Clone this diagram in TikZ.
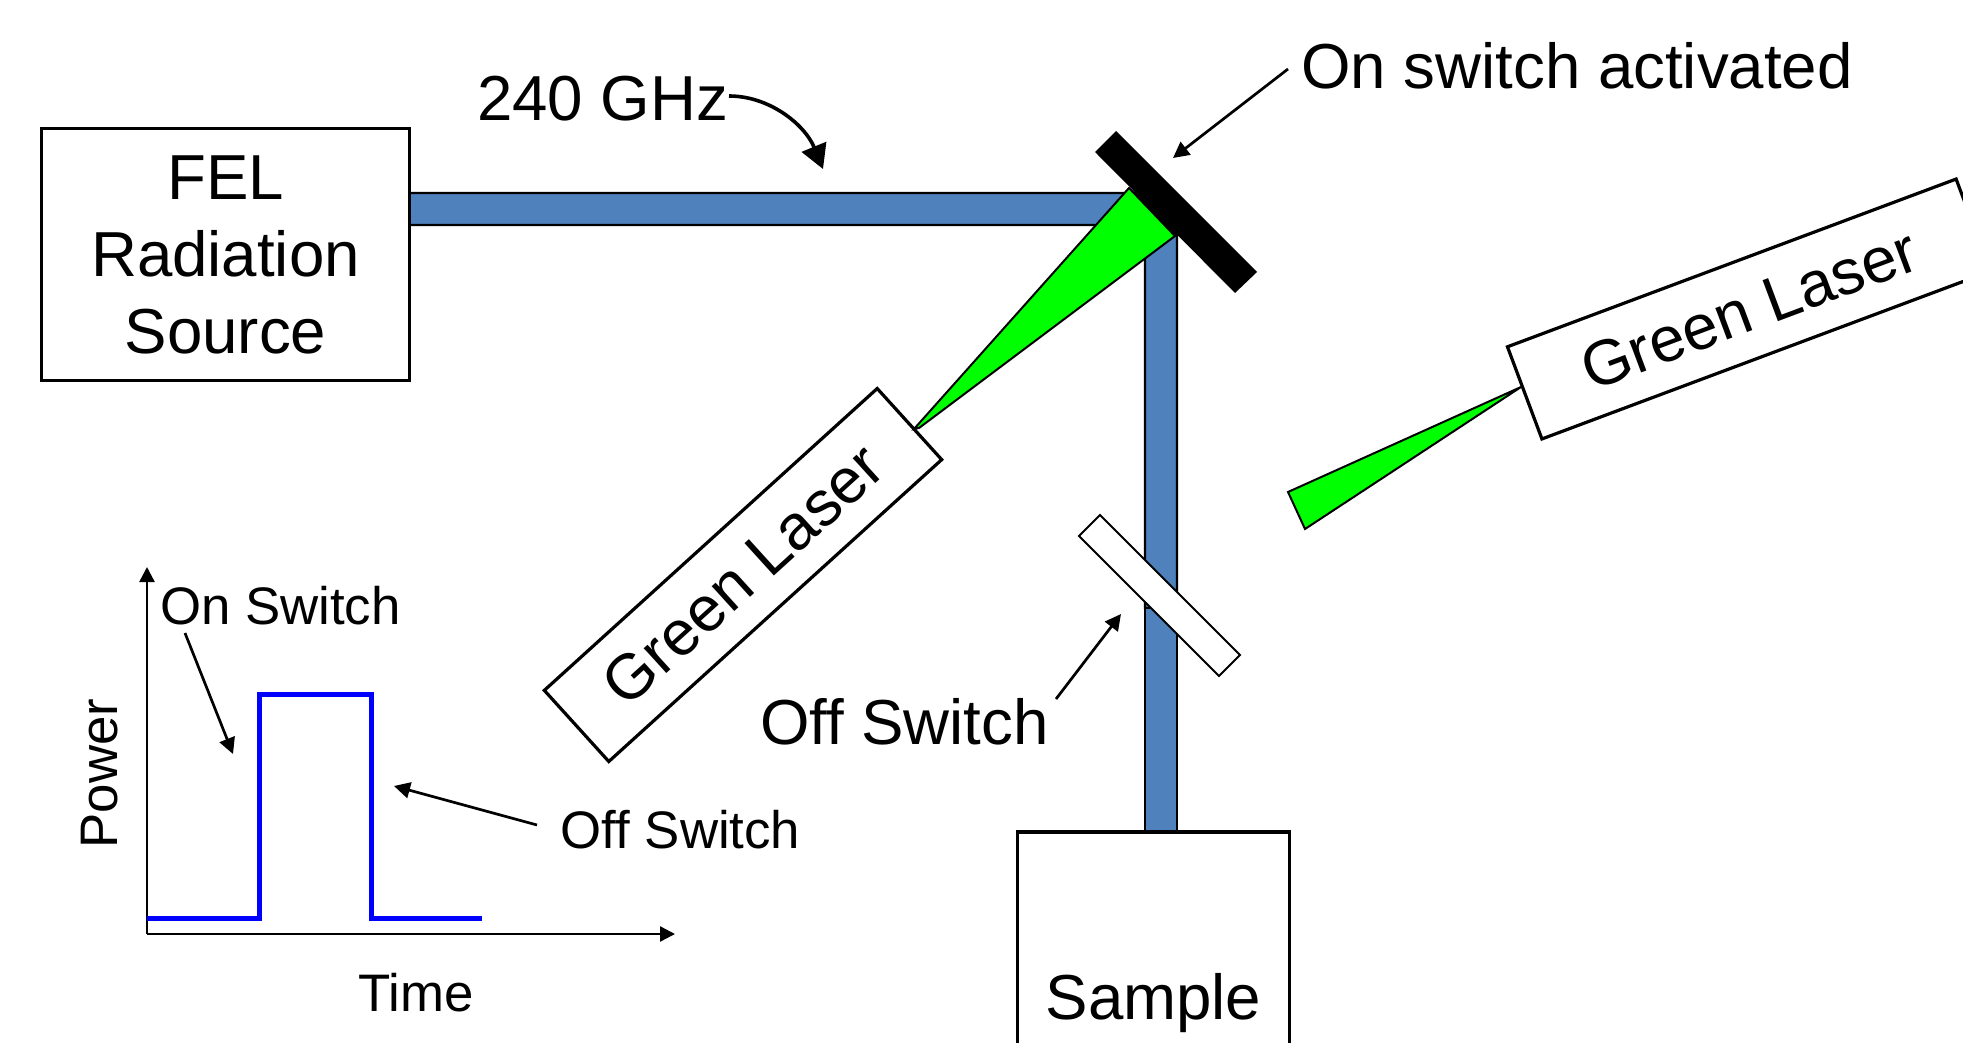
\documentclass[tikz,border=0pt]{standalone}
\usepackage{fontspec}
\setmainfont{Liberation Sans}
\usetikzlibrary{arrows.meta}
\definecolor{beamblue}{HTML}{4F81BD}
\definecolor{lasergreen}{HTML}{00FF00}
\definecolor{pulseblue}{HTML}{0000FF}
\tikzset{
  bigtext/.style={font=\fontsize{31.8}{38.5}\selectfont},
  smalltext/.style={font=\fontsize{26.4}{31}\selectfont},
  label/.style={inner sep=0pt,anchor=base},
  boxed/.style={draw=black,line width=1.6pt,fill=white,inner sep=0pt},
  beam/.style={draw=black,line width=1.2pt,fill=beamblue,line join=miter},
  ray/.style={draw=black,line width=1pt,fill=lasergreen,line join=miter},
  pointer/.style={draw=black,line width=1.35pt,-{Triangle[length=8pt,width=8pt]}},
  axisline/.style={draw=black,line width=1.2pt,-{Triangle[length=7.5pt,width=7.5pt]}},
  pulse/.style={draw=pulseblue,line width=2.5pt,line join=miter},
}
\begin{document}
\begin{tikzpicture}[x=0.5pt,y=-0.5pt]
\clip (0,0) rectangle (1963,1043);
\fill[white] (0,0) rectangle (1963,1043);

% beams
\draw[beam] (409,193) -- (1136,193) -- (1168,225) -- (409,225);
\draw[beam] (1145,203) -- (1177,235) -- (1177,608) -- (1145,608) -- cycle;
\draw[beam] (1145,608) rectangle (1177,832);

% boxes
\node[boxed,bigtext,align=center,minimum width=184pt,minimum height=126pt] (source) at (225.5,254.5) {FEL\\Radiation\\Source};
\node[boxed,bigtext,minimum width=136pt,minimum height=171pt] (sample) at (1153.5,1003) {Sample};
\node[boxed,bigtext,rotate=42.2,minimum width=224.7pt,minimum height=48pt] (laserA) at (743,575) {Green Laser};
\node[boxed,bigtext,rotate=20.5,minimum width=239.5pt,minimum height=49.2pt] (laserB) at (1749,309) {Green Laser};

% laser rays
\draw[ray] (1129,188) -- (1175,236) -- (919,428) -- (914,429) -- cycle;
\draw[ray] (1521,387) -- (1288,492) -- (1305,529) -- cycle;

% mirror and off-switch plate
\fill[black] (1116,131) -- (1257,272) -- (1235,293) -- (1095,152) -- cycle;
\node[draw=black,line width=1pt,fill=white,inner sep=0pt,rotate=-45,minimum width=99pt,minimum height=14.85pt] (plate) at (1159.5,595.5) {};

% labels
\node[label,bigtext] (ghz) at (602.5,121) {240 GHz};
\node[label,bigtext] (onact) at (1577,88.5) {On switch activated};
\node[label,bigtext] (offbig) at (904.5,744.5) {Off Switch};
\node[label,smalltext] (onsmall) at (280.5,624) {On Switch};
\node[label,smalltext] (offsmall) at (680.5,848) {Off Switch};
\node[label,smalltext] (timelabel) at (416,1011) {Time};
\node[label,smalltext,rotate=90] (powerlabel) at (117.5,773.5) {Power};

% pointer ends
\coordinate (ghzS) at (729,96);
\coordinate (ghzE) at (823,169);
\coordinate (onactS) at (1288,69);
\coordinate (onactE) at (1173,158);
\coordinate (offbigS) at (1056,699);
\coordinate (offbigE) at (1121,614);
\coordinate (onsmallS) at (185,633);
\coordinate (onsmallE) at (233,754);
\coordinate (offsmallS) at (537,825);
\coordinate (offsmallE) at (394,786);
\coordinate (orig) at (147,934);
\coordinate (ytop) at (147,567);
\coordinate (xend) at (675,934);

% pointers
\draw[pointer,line width=1.8pt,-{Triangle[length=12pt,width=13pt]}] (ghzS) .. controls (770,96) and (805,125) .. (ghzE);
\draw[pointer] (onactS) -- (onactE);
\draw[pointer] (offbigS) -- (offbigE);
\draw[pointer] (onsmallS) -- (onsmallE);
\draw[pointer] (offsmallS) -- (offsmallE);

% graph
\draw[axisline] (orig) -- (ytop);
\draw[axisline] (orig) -- (xend);
\draw[pulse] (147,918) -- (259,918) -- (259,694) -- (371,694) -- (371,918) -- (482,918);
\end{tikzpicture}
\end{document}
